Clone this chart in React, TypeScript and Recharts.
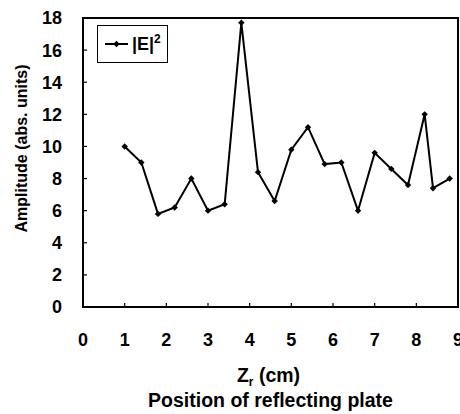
import { LineChart, Line, XAxis, YAxis, ReferenceArea, Legend, Label } from "recharts";

// Position of the reflecting plate (cm) and measured |E|^2
const zPositions = [1.0, 1.4, 1.8, 2.2, 2.6, 3.0, 3.4, 3.8, 4.2, 4.6, 5.0, 5.4, 5.8, 6.2, 6.6, 7.0, 7.4, 7.8, 8.2, 8.4, 8.8];
const amplitudes = [10.0, 9.0, 5.8, 6.2, 8.0, 6.0, 6.4, 17.7, 8.4, 6.6, 9.8, 11.2, 8.9, 9.0, 6.0, 9.6, 8.6, 7.6, 12.0, 7.4, 8.0];
const xTicks = [0, 1, 2, 3, 4, 5, 6, 7, 8, 9];
const yTicks = [0, 2, 4, 6, 8, 10, 12, 14, 16, 18];

const data = zPositions.map((z, i) => ({ z, amp: amplitudes[i] }));

const FONT = "'Liberation Sans', Arial, sans-serif";
const tickStyle = { fontSize: 18, fontWeight: "bold", fill: "#000", fontFamily: FONT };

/** small filled diamond marker */
function Diamond(props: { cx?: number; cy?: number }) {
  const { cx, cy } = props;
  if (cx == null || cy == null) return null;
  const r = 3.2;
  return <path d={`M${cx},${cy - r} L${cx + r},${cy} L${cx},${cy + r} L${cx - r},${cy} Z`} fill="#000" />;
}

function LegendBox() {
  return (
    <div
      style={{
        boxSizing: "border-box",
        width: 71,
        height: 38,
        border: "1.5px solid #000",
        background: "#fff",
        display: "flex",
        alignItems: "center",
        paddingLeft: 7,
        fontFamily: FONT,
        fontWeight: "bold",
        fontSize: 18,
        color: "#000",
      }}
    >
      <svg width={24} height={10} style={{ marginRight: 3 }}>
        <line x1={0} y1={5} x2={23} y2={5} stroke="#000" strokeWidth={2} />
        <path d="M11.5,1.8 L14.7,5 L11.5,8.2 L8.3,5 Z" fill="#000" />
      </svg>
      <span>
        |E|<sup style={{ fontSize: 12, verticalAlign: "7px", lineHeight: 0 }}>2</sup>
      </span>
    </div>
  );
}

export default function App() {
  return (
    <div style={{ position: "absolute", left: 0, top: 0, width: 460, height: 414, background: "#fff" }}>
      <LineChart
        width={460}
        height={414}
        data={data}
        margin={{ top: 18, right: 2, left: 0, bottom: 0 }}
        style={{ fontFamily: FONT }}
      >
        <XAxis
          dataKey="z"
          type="number"
          domain={[0, 9]}
          ticks={xTicks}
          height={107}
          stroke="#000"
          strokeWidth={2}
          tickSize={-4}
          tickMargin={30}
          tick={tickStyle}
          tickLine={{ stroke: "#000", strokeWidth: 1.2 }}
          interval={0}
        >
          <Label
            content={({ viewBox }: any) => {
              const cx = viewBox.x + viewBox.width / 2 - 2;
              return (
                <g style={{ fontFamily: FONT, fontWeight: "bold", fill: "#000" }}>
                  <text x={cx} y={viewBox.y + 75} textAnchor="middle" fontSize={19.5}>
                    Z<tspan fontSize={12} dy={4}>r</tspan>
                    <tspan dy={-4}> (cm)</tspan>
                  </text>
                  <text x={cx + 2} y={viewBox.y + 100} textAnchor="middle" fontSize={19.5}>
                    Position of reflecting plate
                  </text>
                </g>
              );
            }}
          />
        </XAxis>
        <YAxis
          type="number"
          domain={[0, 18]}
          ticks={yTicks}
          width={83}
          stroke="#000"
          strokeWidth={2}
          tickSize={-4}
          tickMargin={25}
          tick={tickStyle}
          tickLine={{ stroke: "#000", strokeWidth: 1.2 }}
          interval={0}
        >
          <Label
            content={({ viewBox }: any) => {
              const lx = 27;
              const ly = viewBox.y + viewBox.height / 2 - 14;
              return (
                <text
                  x={lx}
                  y={ly}
                  transform={`rotate(-90, ${lx}, ${ly})`}
                  textAnchor="middle"
                  style={{ fontSize: 16, fontWeight: "bold", fill: "#000", fontFamily: FONT }}
                >
                  Amplitude (abs. units)
                </text>
              );
            }}
          />
        </YAxis>
        <ReferenceArea x1={0} x2={9} y1={0} y2={18} fill="none" stroke="#000" strokeWidth={2} ifOverflow="visible" />
        <Legend
          layout="horizontal"
          verticalAlign="middle"
          align="center"
          content={() => <LegendBox />}
          wrapperStyle={{ left: 97, top: 25, width: 71, height: 38 }}
        />
        <Line
          type="linear"
          dataKey="amp"
          stroke="#000"
          strokeWidth={2}
          dot={<Diamond />}
          activeDot={false}
          isAnimationActive={false}
        />
      </LineChart>
    </div>
  );
}
